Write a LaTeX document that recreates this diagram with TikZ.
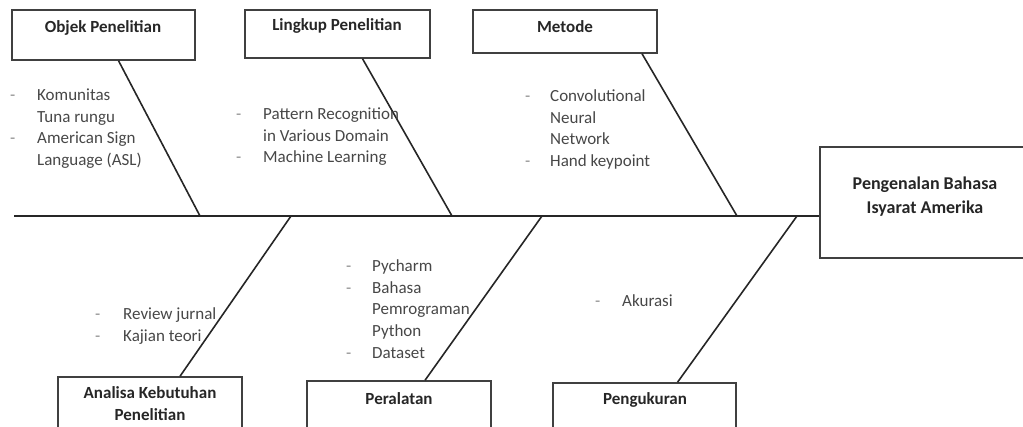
\documentclass[tikz,border=0pt]{standalone}
\usepackage{fontspec}
\setmainfont{Carlito}
\usepackage{array}
\begin{document}
\begin{tikzpicture}[x=1pt,y=-1pt,
  box/.style={draw=black!75, line width=1.4pt, inner sep=0pt},
  title/.style={font=\fontsize{17}{22}\selectfont\bfseries, text=black!85, align=center, inner sep=0pt},
  list/.style={font=\fontsize{17}{21.7}\selectfont, text=black!72, anchor=north west, inner sep=0pt},
  bone/.style={draw=black!85, line width=1.6pt}
]
\useasboundingbox (0,0) rectangle (1023,427);
\clip (0,0) rectangle (1023,427);
\newcommand{\dsh}{\textcolor{black!45}{-}}
% boxes
\node[box, minimum width=183pt, minimum height=50pt] (objek) at (103.5,35) {};
\node[title] (objekt) at (103,28) {Objek Penelitian};
\node[box, minimum width=185pt, minimum height=48pt] (lingkup) at (337.5,34) {};
\node[title] (lingkupt) at (337,26) {Lingkup Penelitian};
\node[box, minimum width=184pt, minimum height=43pt] (metode) at (565,31.5) {};
\node[title] (metodet) at (565,27) {Metode};
\node[box, minimum width=210pt, minimum height=111pt] (hasil) at (925,202.5) {};
\node[title, font=\fontsize{18}{24}\selectfont\bfseries] (hasilt) at (925,197) {Pengenalan Bahasa\\Isyarat Amerika};
\node[box, minimum width=184pt, minimum height=80pt] (analisa) at (150,417) {};
\node[title] (analisat) at (150,404) {Analisa Kebutuhan\\Penelitian};
\node[box, minimum width=184pt, minimum height=80pt] (peralatan) at (399,421) {};
\node[title] (peralatant) at (399,399) {Peralatan};
\node[box, minimum width=183pt, minimum height=80pt] (pengukuran) at (644.5,423) {};
\node[title] (pengukurant) at (645,400) {Pengukuran};
% spine
\coordinate (tail) at (14,216);
\coordinate (j1) at (200,216);
\coordinate (j2) at (452,216);
\coordinate (j3) at (737,216);
\coordinate (k1) at (291,216);
\coordinate (k2) at (542,216);
\coordinate (k3) at (797,216);
\draw[bone] (tail) -- (tail -| hasil.west);
\draw[bone] ([xshift=15pt]objek.south) -- (j1);
\draw[bone] ([xshift=25pt]lingkup.south) -- (j2);
\draw[bone] ([xshift=77pt]metode.south) -- (j3);
\draw[bone] ([xshift=30pt]analisa.north) -- (k1);
\draw[bone] ([xshift=26pt]peralatan.north) -- (k2);
\draw[bone] ([xshift=33pt]pengukuran.north) -- (k3);
% lists
\node[list] (l1) at (10,85) {\begin{tabular}{@{}p{27pt}@{}l@{}}\dsh & Komunitas\\ & Tuna rungu\\ \dsh & American Sign\\ & Language (ASL)\end{tabular}};
\node[list] (l2) at (236,104) {\begin{tabular}{@{}p{27pt}@{}l@{}}\dsh & Pattern Recognition\\ & in Various Domain\\ \dsh & Machine Learning\end{tabular}};
\node[list] (l3) at (525,86) {\begin{tabular}{@{}p{25pt}@{}l@{}}\dsh & Convolutional\\ & Neural\\ & Network\\ \dsh & Hand keypoint\end{tabular}};
\node[list] (l4) at (95,304) {\begin{tabular}{@{}p{28pt}@{}l@{}}\dsh & Review jurnal\\ \dsh & Kajian teori\end{tabular}};
\node[list] (l5) at (346,256) {\begin{tabular}{@{}p{26pt}@{}l@{}}\dsh & Pycharm\\ \dsh & Bahasa\\ & Pemrograman\\ & Python\\ \dsh & Dataset\end{tabular}};
\node[list] (l6) at (595,291) {\begin{tabular}{@{}p{27pt}@{}l@{}}\dsh & Akurasi\end{tabular}};
\end{tikzpicture}
\end{document}
